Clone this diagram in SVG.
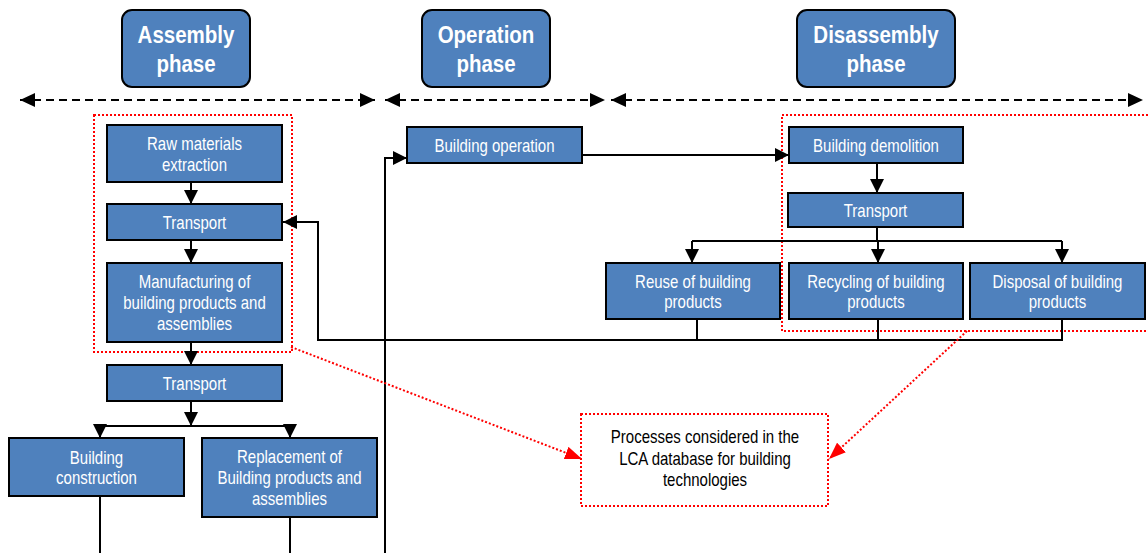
<svg xmlns="http://www.w3.org/2000/svg" width="1148" height="553" viewBox="0 0 1148 553">
<defs>
<style>
.node{fill:#4F81BD;stroke:#000;stroke-width:2}
.phase{fill:#4F81BD;stroke:#000;stroke-width:2}
.nt{font-family:"Liberation Sans",Arial,sans-serif;font-size:15px;fill:#fff;text-anchor:middle}
.pt{font-family:"Liberation Sans",Arial,sans-serif;font-size:20.5px;font-weight:bold;fill:#fff;text-anchor:middle}
.lt{font-family:"Liberation Sans",Arial,sans-serif;font-size:15px;fill:#000;text-anchor:middle}
.conn{fill:none;stroke:#000;stroke-width:2}
.dash{fill:none;stroke:#000;stroke-width:2;stroke-dasharray:8 5}
.reddot{fill:none;stroke:#FF0000;stroke-width:2;stroke-dasharray:2 2}
</style>
<marker id="arr" markerUnits="userSpaceOnUse" markerWidth="14" markerHeight="14" refX="14" refY="7" orient="auto">
<path d="M0,0 L14,7 L0,14 Z" fill="#000"/>
</marker>
<marker id="arrd" markerUnits="userSpaceOnUse" markerWidth="15" markerHeight="14" refX="15" refY="7" orient="auto-start-reverse">
<path d="M0,0 L15,7 L0,14 Z" fill="#000"/>
</marker>
<marker id="arrr" markerUnits="userSpaceOnUse" markerWidth="17" markerHeight="13" refX="17" refY="6.5" orient="auto">
<path d="M0,0 L17,6.5 L0,13 Z" fill="#FF0000"/>
</marker>
</defs>
<rect width="1148" height="553" fill="#fff"/>

<g id="phase-assembly">
<rect class="phase" x="122" y="10" width="128" height="77" rx="10"/>
<g transform="translate(186,48.5) scale(1,1.2)"><text class="pt"><tspan x="0" y="-4.6">Assembly</tspan><tspan x="0" y="19.6">phase</tspan></text></g>
</g>
<g id="phase-operation">
<rect class="phase" x="422" y="10" width="128" height="77" rx="10"/>
<g transform="translate(486,48.5) scale(1,1.2)"><text class="pt"><tspan x="0" y="-4.6">Operation</tspan><tspan x="0" y="19.6">phase</tspan></text></g>
</g>
<g id="phase-disassembly">
<rect class="phase" x="797" y="10" width="158" height="77" rx="10"/>
<g transform="translate(876,48.5) scale(1,1.2)"><text class="pt"><tspan x="0" y="-4.6">Disassembly</tspan><tspan x="0" y="19.6">phase</tspan></text></g>
</g>

<g id="scope-boxes">
<rect class="reddot" x="94" y="115" width="198" height="237"/>
<rect class="reddot" x="782" y="115" width="372" height="216"/>
</g>

<g id="connectors">
<path class="dash" d="M20,100 H375" marker-start="url(#arrd)" marker-end="url(#arrd)"/>
<path class="dash" d="M385,100 H605" marker-start="url(#arrd)" marker-end="url(#arrd)"/>
<path class="dash" d="M611,100 H1143" marker-start="url(#arrd)" marker-end="url(#arrd)"/>
<path class="conn" d="M191,182 V204" marker-end="url(#arr)"/>
<path class="conn" d="M191,240 V263" marker-end="url(#arr)"/>
<path class="conn" d="M191,342 V365" marker-end="url(#arr)"/>
<path class="conn" d="M191,401 V426" marker-end="url(#arr)"/>
<path class="conn" d="M100,426 H290"/>
<path class="conn" d="M100,424 V438" marker-end="url(#arr)"/>
<path class="conn" d="M290,424 V438" marker-end="url(#arr)"/>
<path class="conn" d="M100,497 V553"/>
<path class="conn" d="M290,518 V553"/>
<path class="conn" d="M385,553 V158 H407" marker-end="url(#arr)"/>
<path class="conn" d="M582,155 H789" marker-end="url(#arr)"/>
<path class="conn" d="M877,163 V193" marker-end="url(#arr)"/>
<path class="conn" d="M877,227 V241"/>
<path class="conn" d="M692,241 H1062"/>
<path class="conn" d="M692,241 V263" marker-end="url(#arr)"/>
<path class="conn" d="M878,241 V263" marker-end="url(#arr)"/>
<path class="conn" d="M1062,241 V263" marker-end="url(#arr)"/>
<path class="conn" d="M697,320 V340"/>
<path class="conn" d="M878,320 V340"/>
<path class="conn" d="M1062,320 V340 H318 V222 H283" marker-end="url(#arr)"/>
<path class="reddot" d="M291,347 L582,459" marker-end="url(#arrr)"/>
<path class="reddot" d="M967,331 L829,459" marker-end="url(#arrr)"/>
</g>

<g id="raw-materials">
<rect class="node" x="107" y="125" width="175" height="57"/>
<g transform="translate(194.5,154.5) scale(1,1.2)"><text class="nt"><tspan x="0" y="-3.75">Raw materials</tspan><tspan x="0" y="13.75">extraction</tspan></text></g>
</g>
<g id="transport-1">
<rect class="node" x="107" y="204" width="175" height="36"/>
<g transform="translate(194.5,223) scale(1,1.2)"><text class="nt" x="0" y="5">Transport</text></g>
</g>
<g id="manufacturing">
<rect class="node" x="107" y="263" width="175" height="79"/>
<g transform="translate(194.5,303) scale(1,1.2)"><text class="nt"><tspan x="0" y="-12.5">Manufacturing of</tspan><tspan x="0" y="5">building products and</tspan><tspan x="0" y="22.5">assemblies</tspan></text></g>
</g>
<g id="transport-2">
<rect class="node" x="107" y="365" width="175" height="36"/>
<g transform="translate(194.5,384) scale(1,1.2)"><text class="nt" x="0" y="5">Transport</text></g>
</g>
<g id="building-construction">
<rect class="node" x="9" y="438" width="175" height="58"/>
<g transform="translate(96.5,468) scale(1,1.2)"><text class="nt"><tspan x="0" y="-3.75">Building</tspan><tspan x="0" y="13.75">construction</tspan></text></g>
</g>
<g id="replacement">
<rect class="node" x="202" y="438" width="175" height="79"/>
<g transform="translate(289.5,478) scale(1,1.2)"><text class="nt"><tspan x="0" y="-12.5">Replacement of</tspan><tspan x="0" y="5">Building products and</tspan><tspan x="0" y="22.5">assemblies</tspan></text></g>
</g>
<g id="building-operation">
<rect class="node" x="407" y="127" width="175" height="36"/>
<g transform="translate(494.5,146) scale(1,1.2)"><text class="nt" x="0" y="5">Building operation</text></g>
</g>
<g id="building-demolition">
<rect class="node" x="789" y="127" width="174" height="36"/>
<g transform="translate(876,146) scale(1,1.2)"><text class="nt" x="0" y="5">Building demolition</text></g>
</g>
<g id="transport-3">
<rect class="node" x="788" y="193" width="175" height="34"/>
<g transform="translate(875.5,211) scale(1,1.2)"><text class="nt" x="0" y="5">Transport</text></g>
</g>
<g id="reuse">
<rect class="node" x="606" y="263" width="174" height="56"/>
<g transform="translate(693,292) scale(1,1.2)"><text class="nt"><tspan x="0" y="-3.75">Reuse of building</tspan><tspan x="0" y="13.75">products</tspan></text></g>
</g>
<g id="recycling">
<rect class="node" x="789" y="263" width="174" height="56"/>
<g transform="translate(876,292) scale(1,1.2)"><text class="nt"><tspan x="0" y="-3.75">Recycling of building</tspan><tspan x="0" y="13.75">products</tspan></text></g>
</g>
<g id="disposal">
<rect class="node" x="970" y="263" width="175" height="56"/>
<g transform="translate(1057.5,292) scale(1,1.2)"><text class="nt"><tspan x="0" y="-3.75">Disposal of building</tspan><tspan x="0" y="13.75">products</tspan></text></g>
</g>
<g id="lca-note">
<rect class="reddot" x="581" y="414" width="247" height="92" fill="#fff"/>
<g transform="translate(705,460) scale(1,1.17)"><text class="lt"><tspan x="0" y="-14.5">Processes considered in the</tspan><tspan x="0" y="3.85">LCA database for building</tspan><tspan x="0" y="22.2">technologies</tspan></text></g>
</g>
</svg>
